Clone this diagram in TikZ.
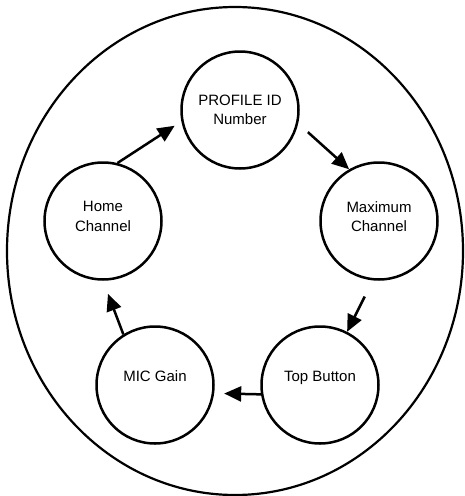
\documentclass[tikz,border=0pt]{standalone}
\usepackage{fontspec}
\setmainfont{Liberation Sans}
\usetikzlibrary{arrows.meta}
\tikzset{
  % Circle styles
  stepcircle/.style={circle, draw=black, line width=2.5pt, minimum size=117pt, inner sep=0pt, align=center, font=\fontsize{15}{19.5}\selectfont},
  % Arrow styles
  arrow/.style={-{Triangle[length=17pt, width=15pt]}, line width=2.5pt, black}
}
\begin{document}
\begin{tikzpicture}[x=1pt, y=-1pt]
  \useasboundingbox (0,0) rectangle (464,496);

  % Outer ring
  \draw[line width=2.2pt] (235,251) ellipse [x radius=228pt, y radius=244pt];

  % Settings
  \node[stepcircle] (profile) at (240,110) {PROFILE ID\\Number};
  \node[stepcircle, text depth=9pt] (maxch) at (379,221) {Maximum\\Channel};
  \node[stepcircle, text depth=17pt] (topbtn) at (320,385) {Top Button};
  \node[stepcircle, text depth=17pt] (mic) at (155,385) {MIC Gain};
  \node[stepcircle, text depth=9pt] (home) at (103,221) {Home\\Channel};

  \draw[arrow, shorten >=8pt] (home.76) -- (profile.191);
  \draw[arrow, shorten <=13pt] (profile.-13) -- (maxch.120);
  \draw[arrow, shorten <=18pt] (maxch.-96) -- (topbtn.63);
  \draw[arrow, shorten >=10pt] (topbtn.189) -- (mic.-8);
  \draw[arrow, shorten >=14pt] (mic.122) -- (home.-90);
\end{tikzpicture}
\end{document}
